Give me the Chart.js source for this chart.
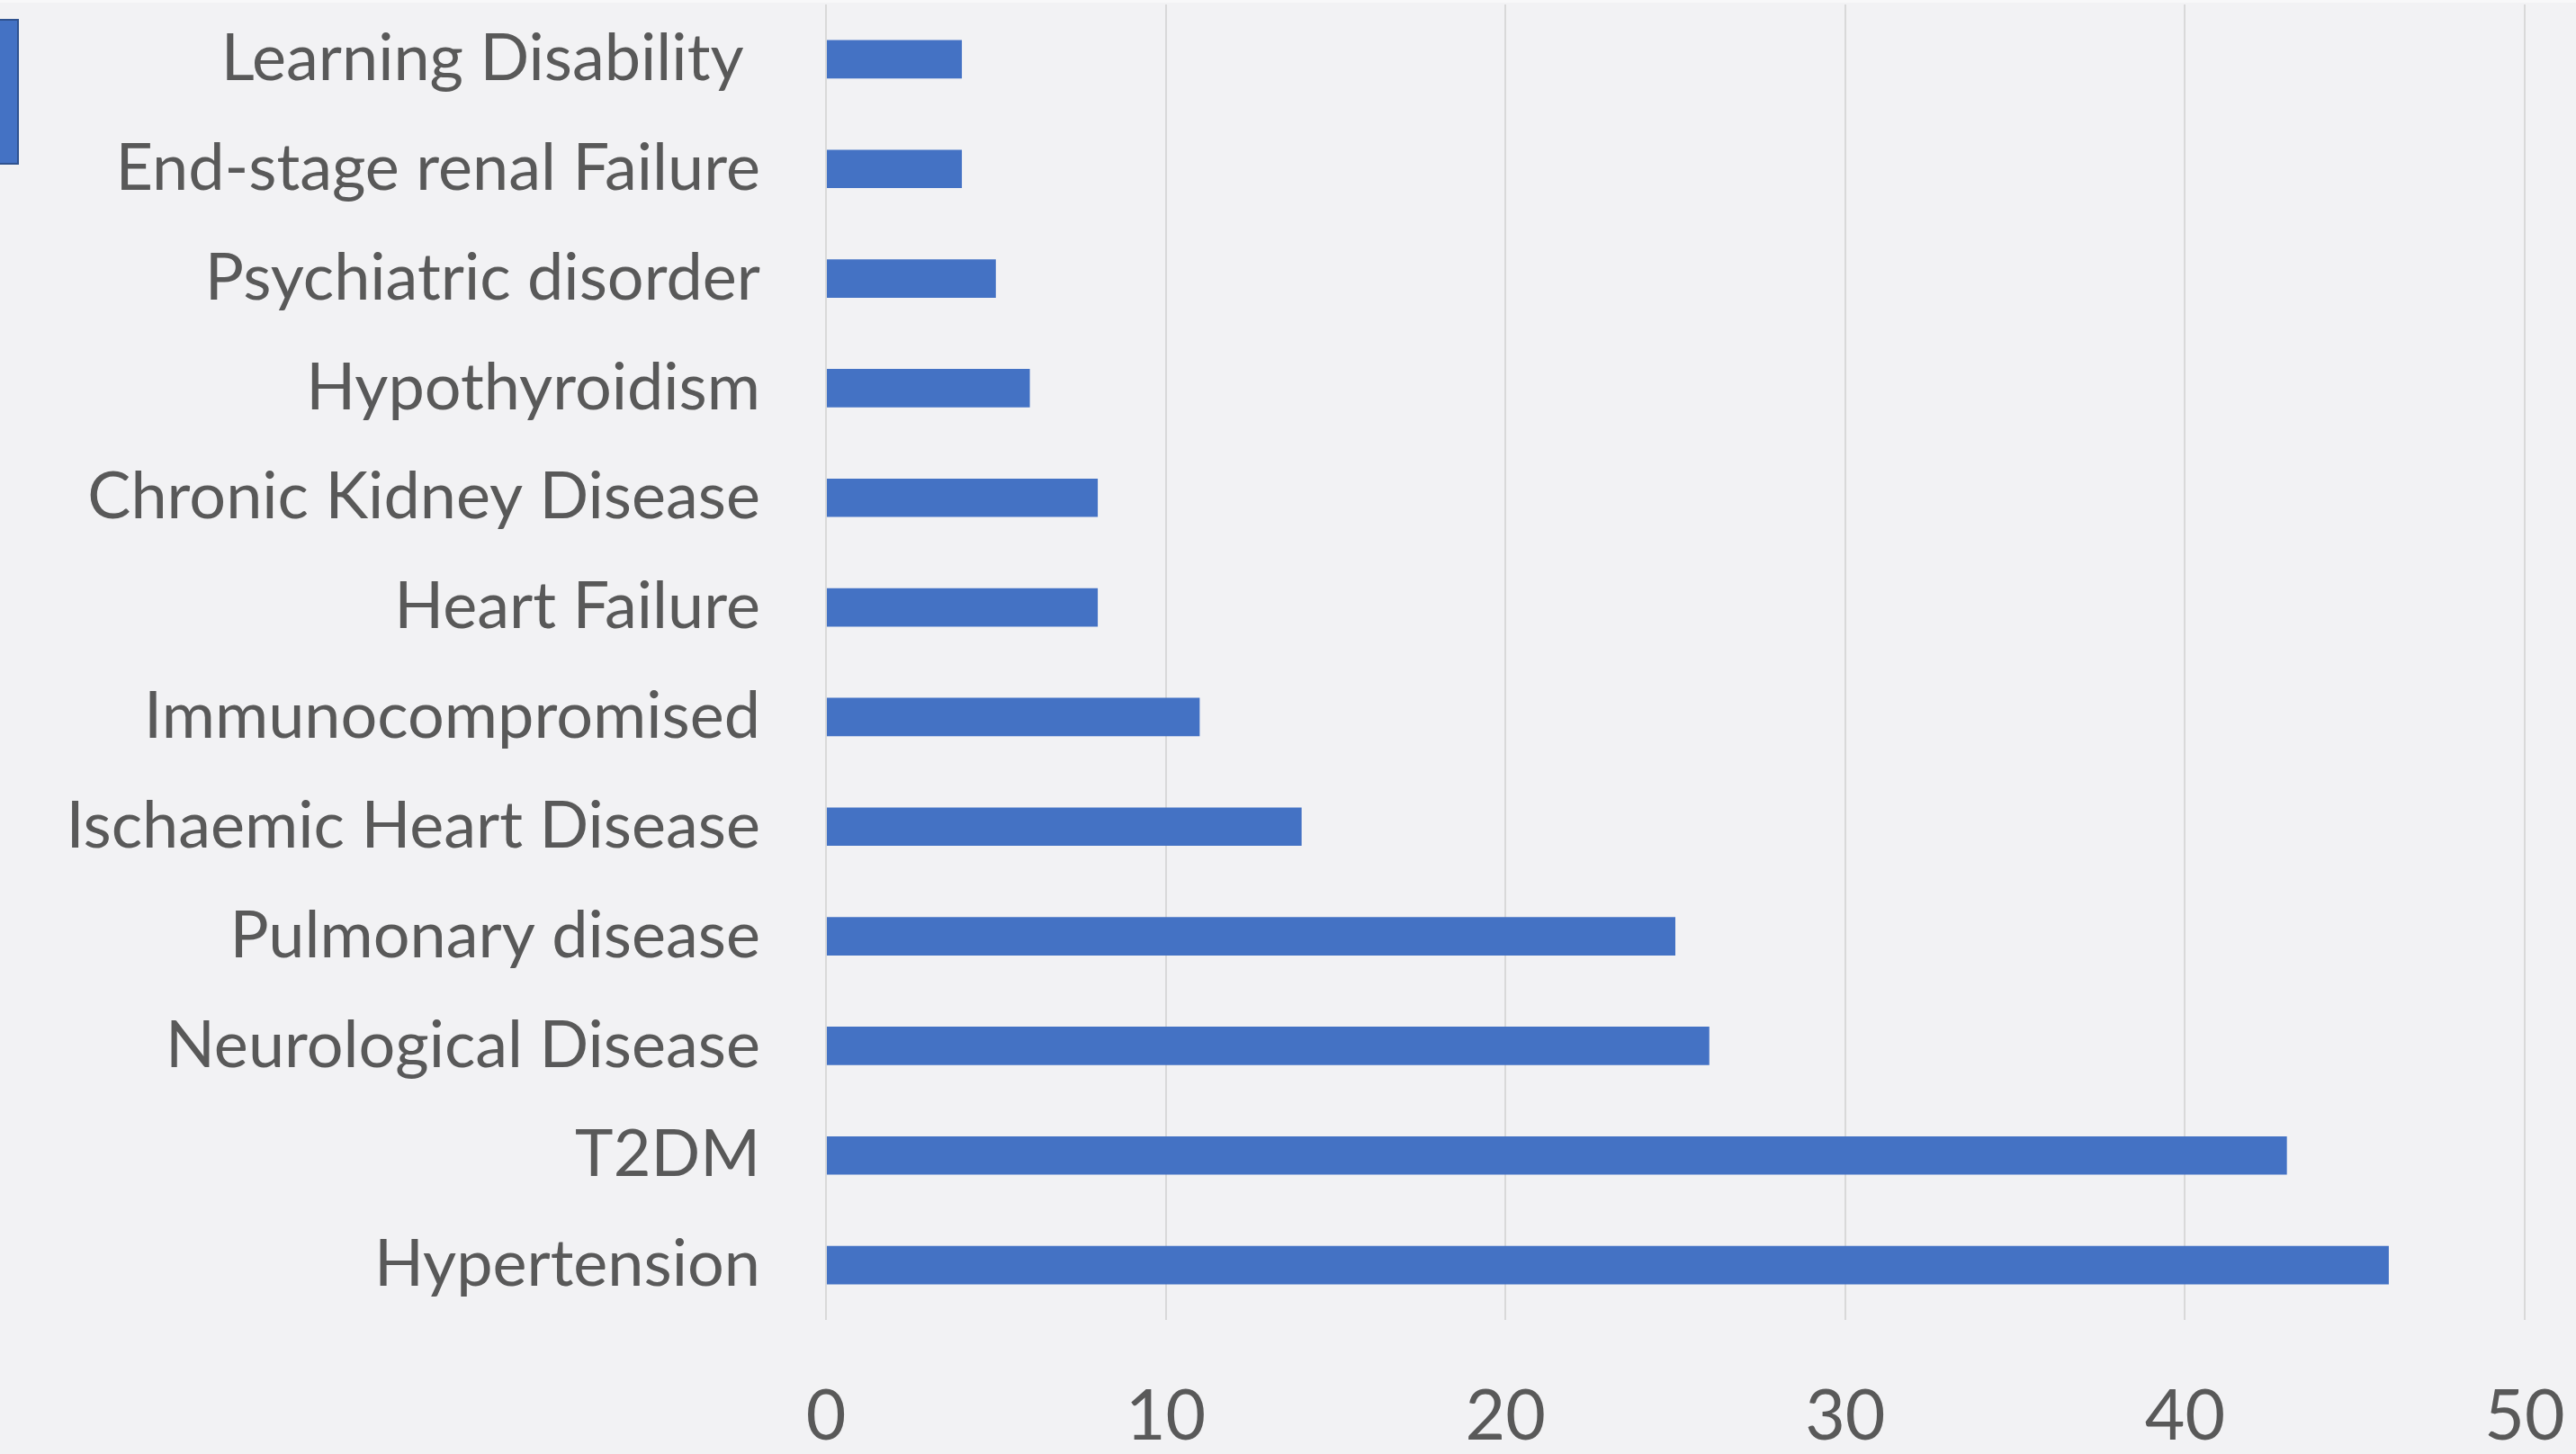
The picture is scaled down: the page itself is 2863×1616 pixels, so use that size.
<!DOCTYPE html>
<html>
<head>
<meta charset="utf-8">
<title>Comorbidities</title>
<script src="https://cdn.jsdelivr.net/npm/chart.js@4.4.1/dist/chart.umd.min.js"></script>
<style>
  html, body { margin: 0; padding: 0; background: #f8f8f9; overflow: hidden; }
  #wrap { position: absolute; left: 0; top: 3px; width: 2863px; height: 1613px; background: #f2f2f4; }
  canvas { display: block; }
</style>
</head>
<body>
<div id="wrap"><canvas id="chart"></canvas></div>
<script>
// Comorbidity counts, listed top to bottom as they appear on the chart
const categories = [
  'Learning Disability ',
  'End-stage renal Failure',
  'Psychiatric disorder',
  'Hypothyroidism',
  'Chronic Kidney Disease',
  'Heart Failure',
  'Immunocompromised',
  'Ischaemic Heart Disease',
  'Pulmonary disease',
  'Neurological Disease',
  'T2DM',
  'Hypertension'
];
const patientCounts = [4, 4, 5, 6, 8, 8, 11, 14, 25, 26, 43, 46];
const xTicks = [0, 10, 20, 30, 40, 50];

const BAR_BLUE = '#4472c4';
const TEXT_GREY = '#595959';

new Chart(document.getElementById('chart'), {
  type: 'bar',
  data: {
    labels: categories,
    datasets: [{
      label: '',
      data: patientCounts,
      backgroundColor: BAR_BLUE,
      borderWidth: 0,
      categoryPercentage: 1,
      barPercentage: 0.35
    }]
  },
  options: {
    indexAxis: 'y',
    responsive: true,
    maintainAspectRatio: false,
    animation: false,
    layout: { padding: { top: 2, left: -22, right: 57, bottom: 0 } },
    plugins: {
      tooltip: { enabled: false },
      legend: {
        position: 'left',
        align: 'start',
        labels: {
          boxWidth: 25,
          boxHeight: 160,
          padding: 17,
          font: { size: 12 },
          generateLabels: () => [{
            text: '',
            fillStyle: BAR_BLUE,
            strokeStyle: '#2f528f',
            lineWidth: 2,
            datasetIndex: 0,
            hidden: false
          }]
        }
      }
    },
    scales: {
      x: {
        min: 0,
        max: 50,
        afterBuildTicks: (scale) => { scale.ticks = xTicks.map(v => ({ value: v })); },
        afterFit: (scale) => {
          scale.height = 149;
          scale.paddingLeft = 0;
          scale.paddingRight = 0;
        },
        grid: { color: '#d9d9d9', lineWidth: 2, drawTicks: false },
        border: { display: false },
        ticks: {
          padding: 62,
          color: TEXT_GREY,
          font: { family: 'Lato', size: 77 }
        }
      },
      y: {
        afterFit: (scale) => {
          scale.width = 882;
          scale.paddingTop = 0;
          scale.paddingBottom = 0;
        },
        grid: { display: false, drawTicks: false },
        border: { display: false },
        ticks: {
          padding: 73,
          color: TEXT_GREY,
          autoSkip: false,
          font: { family: 'Lato', size: 72 }
        }
      }
    }
  }
});
</script>
</body>
</html>
